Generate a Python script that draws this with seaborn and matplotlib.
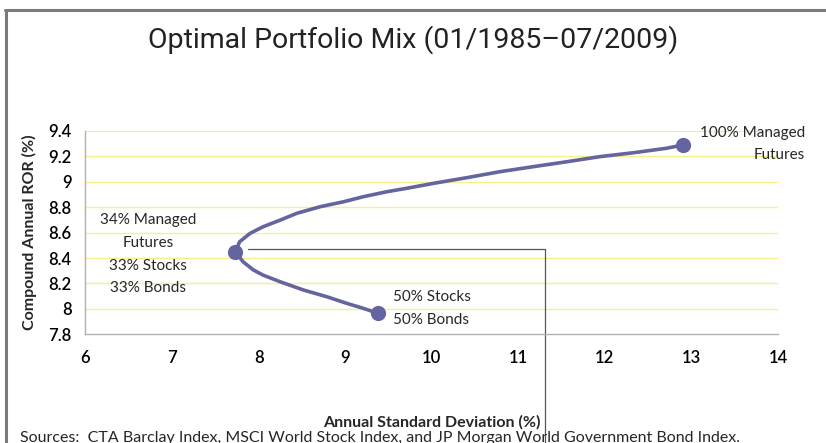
import matplotlib
matplotlib.use("Agg")
import matplotlib.pyplot as plt
from matplotlib.lines import Line2D
import numpy as np
import pandas as pd
import seaborn as sns

# ─────────────────────────────────────────────
# DATA
# ─────────────────────────────────────────────
# efficient frontier, from 50/50 stocks-bonds through the minimum-variance mix to 100% managed futures
STD_DEV = [9.38, 9.21, 9.02, 8.79, 8.52, 8.25, 8.05, 7.94, 7.82, 7.73,
           7.78, 7.90, 8.05, 8.25, 8.44, 8.71, 8.98, 9.21, 9.48, 9.71,
           10.02, 10.40, 10.79, 11.17, 11.56, 11.94, 12.33, 12.71, 12.90]
ROR = [7.965, 8.004, 8.043, 8.095, 8.148, 8.213, 8.266, 8.306, 8.371, 8.450,
       8.528, 8.594, 8.646, 8.699, 8.752, 8.804, 8.843, 8.883, 8.922, 8.949,
       8.988, 9.032, 9.080, 9.119, 9.158, 9.198, 9.229, 9.264, 9.290]

KEY_STD = [9.38, 7.73, 12.90]
KEY_ROR = [7.965, 8.450, 9.290]
KEY_LABELS = ["50% Stocks\n50% Bonds",
              "34% Managed\nFutures\n33% Stocks\n33% Bonds",
              "100% Managed\nFutures"]

X_TICKS = [6, 7, 8, 9, 10, 11, 12, 13, 14]
Y_TICKS = [7.8, 8.0, 8.2, 8.4, 8.6, 8.8, 9.0, 9.2, 9.4]
Y_TICK_LABELS = ["7.8", "8", "8.2", "8.4", "8.6", "8.8", "9", "9.2", "9.4"]

TITLE = "Optimal Portfolio Mix (01/1985\u201307/2009)"
SOURCES = ("Sources:  CTA Barclay Index, MSCI World Stock Index, "
           "and JP Morgan World Government Bond Index.")

LINE_COLOR = "#6464a0"
GRID_COLOR = "#f7f08a"
FONT = ["Lato", "DejaVu Sans"]

# ─────────────────────────────────────────────
# FIGURE
# ─────────────────────────────────────────────
sns.set_style("white")
plt.rcParams["font.family"] = FONT

fig = plt.figure(figsize=(8.26, 4.43), dpi=100)
ax = fig.add_axes([0.1035, 0.2454, 0.8385, 0.4589])

df = pd.DataFrame({"std": STD_DEV, "ror": ROR})
sns.lineplot(data=df, x="std", y="ror", sort=False, estimator=None, ax=ax,
             color=LINE_COLOR, linewidth=2.6, zorder=3)
sns.scatterplot(x=KEY_STD, y=KEY_ROR, ax=ax, color=LINE_COLOR, s=120,
                edgecolor=LINE_COLOR, linewidth=0, zorder=4)

ax.set_xlim(6, 14)
ax.set_ylim(7.8, 9.4)
ax.set_xticks(X_TICKS)
ax.set_yticks(Y_TICKS)
ax.set_yticklabels(Y_TICK_LABELS)

# yellow horizontal gridlines
for y in Y_TICKS[1:]:
    ax.axhline(y, color=GRID_COLOR, linewidth=1.0, zorder=1)

for side in ["top", "right"]:
    ax.spines[side].set_visible(False)
for side in ["left", "bottom"]:
    ax.spines[side].set_color("#b0b0b0")
    ax.spines[side].set_linewidth(1.0)

ax.tick_params(axis="both", which="both", direction="out", length=5,
               width=1.0, color="#b0b0b0", labelsize=12, labelcolor="black")
ax.tick_params(axis="x", pad=6)
ax.tick_params(axis="y", pad=5)
for lbl in ax.get_xticklabels() + ax.get_yticklabels():
    lbl.set_fontweight("semibold")

ax.set_xlabel("Annual Standard Deviation (%)", fontsize=11.5,
              fontweight="bold", labelpad=36)
ax.set_ylabel("Compound Annual ROR (%)", fontsize=11.5,
              fontweight="bold", labelpad=8)

# annotations for the three key portfolios
ax.text(9.55, 8.002, KEY_LABELS[0], ha="left", va="center",
        fontsize=11, linespacing=1.75)
ax.text(6.72, 8.43, KEY_LABELS[1], ha="center", va="center",
        fontsize=11, linespacing=1.8)
ax.text(14.31, 9.30, KEY_LABELS[2], ha="right", va="center",
        fontsize=11, linespacing=1.75, multialignment="right")

# leader line from the minimum-variance point
ax.plot([7.88, 11.31, 11.31], [8.471, 8.471, 6.85], color="#555555",
        linewidth=0.9, clip_on=False, zorder=2)

# title and sources
fig.text(0.5, 0.91, TITLE, ha="center", va="center", fontsize=20.5,
         family=["Roboto", "DejaVu Sans"], color="#222222")
fig.text(0.024, 0.028, SOURCES, ha="left", va="top", fontsize=11.5)

# outer frame (left and top edges)
fig.add_artist(Line2D([0.007, 0.007], [0.0, 0.978], transform=fig.transFigure,
                      color="#7a7a7a", linewidth=2.2))
fig.add_artist(Line2D([0.006, 1.0], [0.977, 0.977], transform=fig.transFigure,
                      color="#7a7a7a", linewidth=2.2))

fig.savefig("out.png", dpi=100)
plt.close(fig)
